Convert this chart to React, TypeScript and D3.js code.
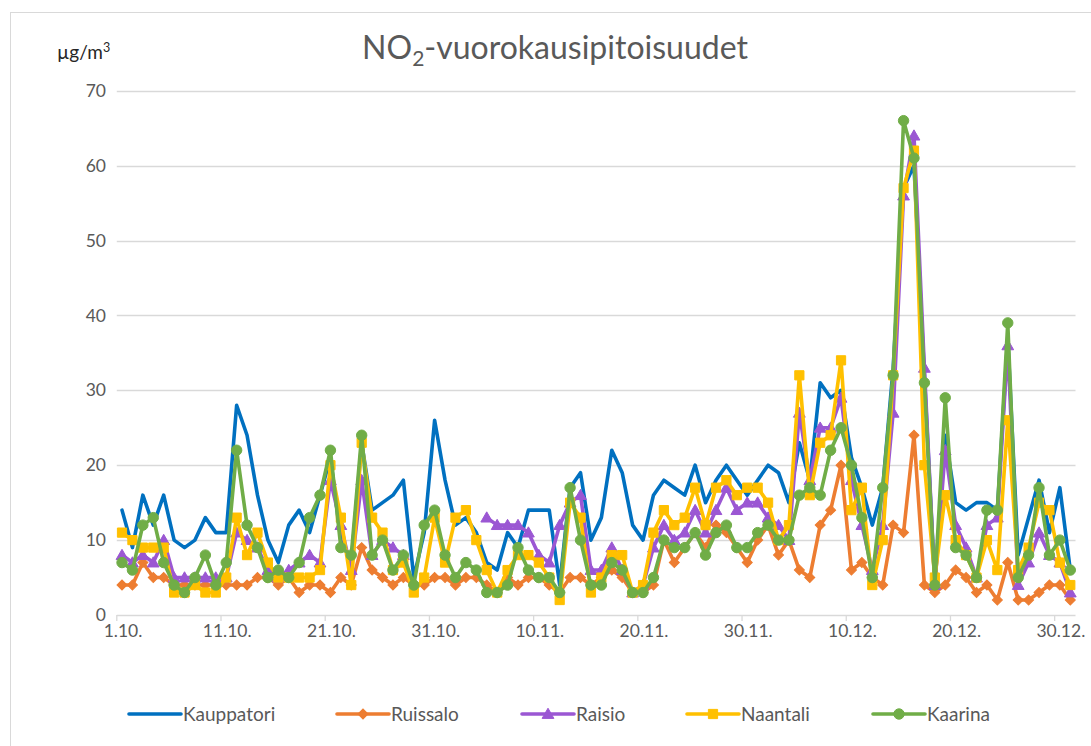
import React from "react";
import * as d3 from "d3";

// ---------- data ----------
const dayLabels: string[] = d3.timeDay
  .range(new Date(2020, 9, 1), new Date(2021, 0, 1))
  .map((d) => `${d.getDate()}.${d.getMonth() + 1}.`);

const tickIndices = [0, 10, 20, 30, 40, 50, 60, 70, 80, 90];
const yTicks = [0, 10, 20, 30, 40, 50, 60, 70];

const seriesNames = ["Kauppatori", "Ruissalo", "Raisio", "Naantali", "Kaarina"];

const kauppatori = [
  14, 9, 16, 12, 16, 10, 9, 10, 13, 11,
  11, 28, 24, 16, 10, 7, 12, 14, 11, 16,
  21, 10, 7, 23, 14, 15, 16, 18, 5, 11,
  26, 18, 12, 13, 11, 7, 6, 11, 9, 14,
  14, 14, 4, 17, 19, 10, 13, 22, 19, 12,
  10, 16, 18, 17, 16, 20, 15, 18, 20, 18,
  16, 18, 20, 19, 15, 23, 18, 31, 29, 30,
  21, 17, 12, 17, 33, 57, 60, 32, 4, 24,
  15, 14, 15, 15, 14, 37, 8, 13, 18, 11,
  17, 6,
];

const ruissalo = [
  4, 4, 7, 5, 5, 4, 4, 4, 4, 4,
  4, 4, 4, 5, 5, 4, 5, 3, 4, 4,
  3, 5, 4, 9, 6, 5, 4, 5, 4, 4,
  5, 5, 4, 5, 5, 4, 3, 5, 4, 5,
  5, 4, 3, 5, 5, 4, 5, 6, 5, 3,
  3, 4, 10, 7, 9, 11, 9, 12, 11, 9,
  7, 10, 12, 8, 10, 6, 5, 12, 14, 20,
  6, 7, 5, 4, 12, 11, 24, 4, 3, 4,
  6, 5, 3, 4, 2, 7, 2, 2, 3, 4,
  4, 2,
];

const raisio: (number | null)[] = [
  8, 7, 8, 7, 10, 5, 5, 5, 5, 5,
  5, 11, 10, 9, 6, 5, 6, 7, 8, 7,
  18, 12, 6, 18, 8, 10, 9, 8, null, null,
  null, null, null, null, null, 13, 12, 12, 12, 11,
  8, 7, 12, 15, 16, 6, 6, 9, 6, 3,
  4, 9, 12, 10, 11, 14, 11, 14, 17, 14,
  15, 15, 13, 12, 10, 27, 18, 25, 25, 29,
  18, 12, 6, 12, 27, 56, 64, 33, 4, 22,
  12, 9, 5, 12, 13, 36, 4, 7, 11, 8,
  7, 3,
];

const naantali = [
  11, 10, 9, 9, 9, 3, 3, 4, 3, 3,
  5, 13, 8, 11, 7, 5, 5, 5, 5, 6,
  20, 13, 4, 23, 13, 11, 6, 7, 3, 5,
  13, 7, 13, 14, 10, 6, 3, 6, 8, 8,
  7, 5, 2, 15, 13, 3, 5, 8, 8, 3,
  4, 11, 14, 12, 13, 17, 12, 17, 18, 16,
  17, 17, 15, 10, 12, 32, 16, 23, 24, 34,
  14, 17, 4, 10, 32, 57, 62, 20, 5, 16,
  10, 8, 5, 10, 6, 26, 6, 9, 15, 14,
  7, 4,
];

const kaarina = [
  7, 6, 12, 13, 7, 4, 3, 5, 8, 4,
  7, 22, 12, 9, 5, 6, 5, 7, 13, 16,
  22, 9, 8, 24, 8, 10, 6, 8, 4, 12,
  14, 8, 5, 7, 6, 3, 3, 4, 9, 6,
  5, 5, 3, 17, 10, 4, 4, 7, 6, 3,
  3, 5, 10, 9, 9, 11, 8, 11, 12, 9,
  9, 11, 12, 10, 10, 16, 17, 16, 22, 25,
  20, 13, 5, 17, 32, 66, 61, 31, 4, 29,
  9, 8, 5, 14, 14, 39, 5, 8, 17, 8,
  10, 6,
];

const seriesValues: (number | null)[][] = [kauppatori, ruissalo, raisio, naantali, kaarina];

// ---------- styles ----------
const colors = ["#0070C0", "#ED7D31", "#9B57D3", "#FFC000", "#70AD47"];
type MarkerKind = "none" | "diamond" | "triangle" | "square" | "circle";
const markers: MarkerKind[] = ["none", "diamond", "triangle", "square", "circle"];
const FONT = "Lato, 'Open Sans', sans-serif";
const TEXT = "#595959";

function markerPath(kind: MarkerKind): string {
  switch (kind) {
    case "diamond":
      return d3.symbol().type(d3.symbolSquare).size(50)()!;
    case "triangle":
      return d3.symbol().type(d3.symbolTriangle).size(60)()!;
    case "square":
      return d3.symbol().type(d3.symbolSquare).size(85)()!;
    case "circle":
      return d3.symbol().type(d3.symbolCircle).size(85)()!;
    default:
      return "";
  }
}

function Marker({ kind, cx, cy, color }: { kind: MarkerKind; cx: number; cy: number; color: string }) {
  if (kind === "none") return null;
  const rot = kind === "diamond" ? " rotate(45)" : "";
  const dy = kind === "triangle" ? 1 : 0;
  return (
    <path
      d={markerPath(kind)}
      transform={`translate(${cx},${cy + dy})${rot}`}
      fill={color}
      stroke={color}
      strokeWidth={1}
    />
  );
}

export default function App() {
  const left = 116.8;
  const right = 1075.5;
  const x = d3
    .scalePoint<number>()
    .domain(d3.range(dayLabels.length))
    .range([left, right])
    .padding(0.5);
  const step = x.step();
  const y = d3.scaleLinear().domain([0, 70]).range([615, 90.7]);

  const lineGen = d3
    .line<number | null>()
    .defined((d) => d != null)
    .x((_, i) => x(i)!)
    .y((d) => y(d as number));

  const legendX = [129, 337, 522, 687, 873];
  const legendY = 714;
  const legendLine = 52;

  return (
    <svg
      width={1091}
      height={746}
      style={{ position: "absolute", left: 0, top: 0, background: "#fff" }}
      fontFamily={FONT}
    >
      <rect x={0} y={0} width={1091} height={746} fill="#fff" />
      {/* chart border */}
      <rect x={10.5} y={12.5} width={1200} height={900} fill="none" stroke="#D9D9D9" strokeWidth={1} />

      {/* title */}
      <text x={555} y={59} textAnchor="middle" fontSize={32} fill={TEXT}>
        <tspan>NO</tspan>
        <tspan dy={7} fontSize={21}>2</tspan>
        <tspan dy={-7}>-vuorokausipitoisuudet</tspan>
      </text>

      {/* unit label */}
      <text x={57} y={59} fontSize={19} fill="#262626">
        <tspan>µg/m</tspan>
        <tspan dy={-7} fontSize={12.5}>3</tspan>
      </text>

      {/* gridlines */}
      {yTicks.map((t) => (
        <g key={t}>
          <line
            x1={left}
            x2={right}
            y1={Math.round(y(t)) + 0.5}
            y2={Math.round(y(t)) + 0.5}
            stroke="#D9D9D9"
            strokeWidth={1.3}
          />
          <text x={106} y={y(t)} dy="0.35em" textAnchor="end" fontSize={17.5} fill={TEXT}>
            {t}
          </text>
        </g>
      ))}

      {/* x ticks */}
      {tickIndices.map((i) => {
        const bx = x(i)! - step / 2;
        return (
          <g key={i}>
            <line x1={bx} x2={bx} y1={615} y2={621} stroke="#D9D9D9" strokeWidth={1.3} />
            <text x={x(i)! + 1} y={637} textAnchor="middle" fontSize={17.5} fill={TEXT}>
              {dayLabels[i]}
            </text>
          </g>
        );
      })}

      {/* series */}
      {seriesValues.map((vals, si) => (
        <g key={si}>
          <path
            d={lineGen(vals) || ""}
            fill="none"
            stroke={colors[si]}
            strokeWidth={3.6}
            strokeLinejoin="round"
            strokeLinecap="round"
          />
          {vals.map((v, i) =>
            v == null ? null : (
              <Marker key={i} kind={markers[si]} cx={x(i)!} cy={y(v)} color={colors[si]} />
            )
          )}
        </g>
      ))}

      {/* legend */}
      {seriesNames.map((name, si) => (
        <g key={name}>
          <line
            x1={legendX[si]}
            x2={legendX[si] + legendLine}
            y1={legendY}
            y2={legendY}
            stroke={colors[si]}
            strokeWidth={3.6}
            strokeLinecap="round"
          />
          <Marker kind={markers[si]} cx={legendX[si] + legendLine / 2} cy={legendY} color={colors[si]} />
          <text x={legendX[si] + legendLine + 2} y={legendY} dy="0.35em" fontSize={19} fill={TEXT}>
            {name}
          </text>
        </g>
      ))}
    </svg>
  );
}
